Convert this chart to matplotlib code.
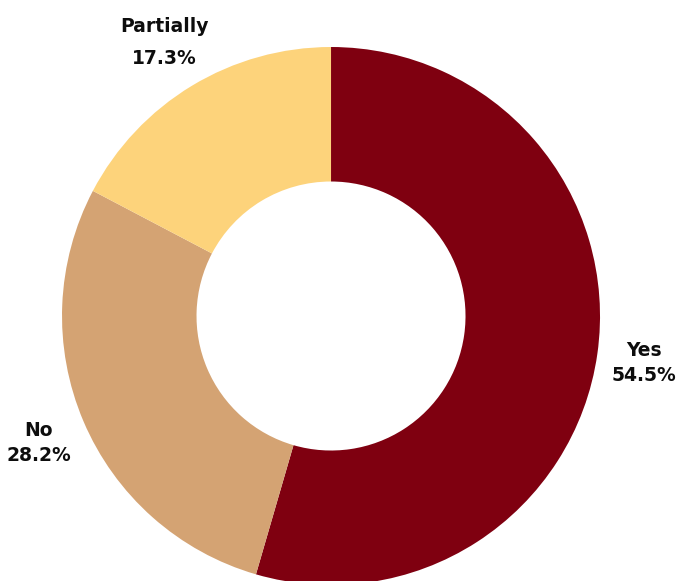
import numpy as np
import matplotlib.pyplot as plt

plt.rcParams['font.family'] = ['DejaVu Sans']

labels = ["Yes", "No", "Partially"]
shares = [54.5, 28.2, 17.3]
colors = ["#7F0010", "#D4A373", "#FDD37B"]

fig = plt.figure(figsize=(6.77, 5.81), dpi=100)
ax = fig.add_axes([0.0916, -0.0069, 0.7947, 0.926])

wedges, _ = ax.pie(shares, colors=colors, startangle=90, counterclock=False,
                   radius=1.0, wedgeprops=dict(width=0.5, edgecolor="white", linewidth=0))

# label distance and line spacing per slice
dist = {"Yes": 1.175, "No": 1.18, "Partially": 1.2}
spacing = {"Yes": 1.42, "No": 1.42, "Partially": 1.85}

for w, lab, v in zip(wedges, labels, shares):
    mid = np.deg2rad((w.theta1 + w.theta2) / 2)
    r = dist[lab]
    ax.text(r * np.cos(mid), r * np.sin(mid) - 0.01, f"{lab}\n{v}%", ha="center", va="center",
            fontsize=13.5, fontweight="bold", color="#0d0d0d", linespacing=spacing[lab])

ax.set_xlim(-1, 1)
ax.set_ylim(-1, 1)
ax.set_aspect("equal")
ax.axis("off")

fig.savefig("out.png", dpi=100)
